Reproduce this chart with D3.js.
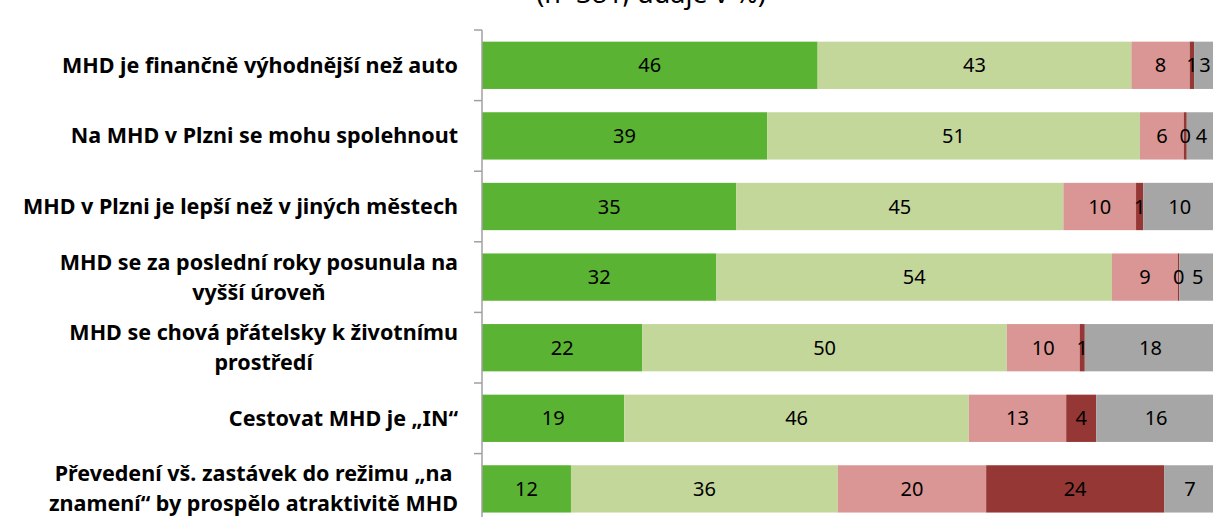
<!DOCTYPE html>
<html>
<head>
<meta charset="utf-8">
<script src="https://cdn.jsdelivr.net/npm/d3@7"></script>
<style>
  body { margin: 0; background: #fff; }
  svg { display: block; font-family: "Noto Sans", sans-serif; }
</style>
</head>
<body>
<div id="chart"></div>
<script>
const width = 1213;
const height = 517;

const categories = [
  ["MHD je finančně výhodnější než auto"],
  ["Na MHD v Plzni se mohu spolehnout"],
  ["MHD v Plzni je lepší než v jiných městech"],
  ["MHD se za poslední roky posunula na", "vyšší úroveň"],
  ["MHD se chová přátelsky k životnímu", "prostředí"],
  ["Cestovat MHD je „IN“"],
  ["Převedení vš. zastávek do režimu „na", "znamení“ by prospělo atraktivitě MHD"]
];

const seriesKeys = ["rozhodně souhlasím", "spíše souhlasím", "spíše nesouhlasím", "rozhodně nesouhlasím", "nevím"];
const colors = ["#5bb333", "#c4d79b", "#da9694", "#953735", "#a6a6a6"];

const valsStrongAgree = [46, 39, 35, 32, 22, 19, 12];
const valsAgree       = [43, 51, 45, 54, 50, 46, 36];
const valsDisagree    = [8, 6, 10, 9, 10, 13, 20];
const valsStrongDis   = [0.6, 0.4, 1, 0.2, 0.7, 4, 24];
const valsDontKnow    = [3, 4, 10, 5, 18, 16, 7];

const rows = categories.map((c, i) => ({
  idx: i,
  "rozhodně souhlasím": valsStrongAgree[i],
  "spíše souhlasím": valsAgree[i],
  "spíše nesouhlasím": valsDisagree[i],
  "rozhodně nesouhlasím": valsStrongDis[i],
  "nevím": valsDontKnow[i]
}));

const margin = { left: 482, top: 30 };
const plotRight = 1216;

const x = d3.scaleLinear().domain([0, 1]).range([margin.left, plotRight]);
const y = d3.scaleBand()
  .domain(d3.range(categories.length))
  .range([margin.top, margin.top + 70.6 * categories.length])
  .paddingInner(0.33)
  .paddingOuter(0.165);

const color = d3.scaleOrdinal().domain(seriesKeys).range(colors);

const stack = d3.stack().keys(seriesKeys).offset(d3.stackOffsetExpand);
const stacked = stack(rows);

const svg = d3.select("#chart").append("svg")
  .attr("width", width)
  .attr("height", height);

// title (its upper part lies above the picture, as in the reference)
svg.append("text")
  .attr("x", 651)
  .attr("y", 3)
  .attr("text-anchor", "middle")
  .attr("font-size", 27)
  .attr("fill", "#000")
  .text("(n=381; údaje v %)");

const layers = svg.append("g").selectAll("g")
  .data(stacked)
  .join("g")
  .attr("fill", d => color(d.key));

layers.selectAll("rect")
  .data(d => d)
  .join("rect")
  .attr("x", d => x(d[0]))
  .attr("y", d => y(d.data.idx))
  .attr("width", d => x(d[1]) - x(d[0]))
  .attr("height", y.bandwidth());

// value labels
const labels = svg.append("g")
  .attr("font-size", 20)
  .attr("fill", "#000")
  .attr("text-anchor", "middle");

stacked.forEach(layer => {
  labels.selectAll(null)
    .data(layer)
    .join("text")
    .attr("x", d => (x(d[0]) + x(d[1])) / 2)
    .attr("y", d => y(d.data.idx) + y.bandwidth() / 2)
    .attr("dy", "0.35em")
    .text(d => Math.round(d.data[layer.key]));
});

// axis
const axisG = svg.append("g")
  .attr("transform", `translate(${margin.left},0)`);
axisG.append("line")
  .attr("y1", margin.top)
  .attr("y2", height)
  .attr("stroke", "#a0a0a0")
  .attr("stroke-width", 1.5);
axisG.selectAll(".tick")
  .data(d3.range(categories.length + 1))
  .join("line")
  .attr("x1", -8)
  .attr("x2", 0)
  .attr("y1", i => margin.top + y.step() * i)
  .attr("y2", i => margin.top + y.step() * i)
  .attr("stroke", "#a0a0a0")
  .attr("stroke-width", 1.5);

// category labels
const catG = svg.append("g")
  .attr("font-size", 21.5)
  .attr("font-weight", "bold")
  .attr("fill", "#000");

const labelRight = 458;
const lineH = 30;

categories.forEach((lines, i) => {
  const g = catG.append("g");
  const cy = y(i) + y.bandwidth() / 2;
  const texts = lines.map((t, j) => g.append("text")
    .attr("y", cy + (j - (lines.length - 1) / 2) * lineH)
    .attr("dy", "0.35em")
    .attr("text-anchor", "middle")
    .text(t));
  const maxW = d3.max(texts, t => t.node().getComputedTextLength());
  texts.forEach(t => t.attr("x", labelRight - maxW / 2));
});
</script>
</body>
</html>
